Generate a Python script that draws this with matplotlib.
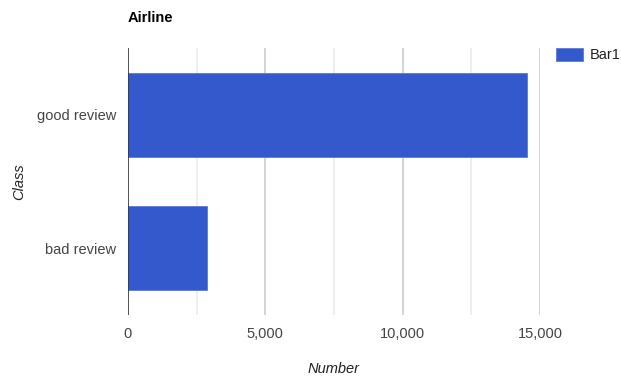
import matplotlib
matplotlib.use("Agg")
import matplotlib.pyplot as plt
from matplotlib.ticker import FuncFormatter

plt.rcParams['font.family'] = ['Liberation Sans', 'DejaVu Sans']

categories = ["bad review", "good review"]
values = [2865, 14540]
series_name = "Bar1"
title = "Airline"
x_label = "Number"
y_label = "Class"
major_ticks = [0, 5000, 10000, 15000]

W, H = 621, 378
FS = 10.5
fig = plt.figure(figsize=(W / 100, H / 100), dpi=100)
left, right, top, bottom = 128, 540, 48, 315
ax = fig.add_axes([left / W, 1 - bottom / H, (right - left) / W, (bottom - top) / H])

bar_color = "#3359cc"
ypos = list(range(len(categories)))
ax.barh(ypos, values, height=0.627, color=bar_color, edgecolor="#5a7ad6",
        linewidth=0.6, zorder=3, label=series_name)

ax.set_xlim(0, 15000)
ax.set_ylim(-0.5, len(categories) - 0.5)

# gridlines: light minor every 2,500, slightly darker major every 5,000
for v in range(2500, 15001, 2500):
    major = v % 5000 == 0
    ax.axvline(v, color="#cccccc" if major else "#ebebeb", linewidth=1.2, zorder=1)
ax.axvline(0, color="#333333", linewidth=1.2, zorder=4)

for s in ax.spines.values():
    s.set_visible(False)

ax.set_xticks(major_ticks)
ax.xaxis.set_major_formatter(FuncFormatter(lambda v, p: f"{int(v):,}"))
ax.set_yticks(ypos)
ax.set_yticklabels(categories)
ax.tick_params(axis="both", length=0, labelsize=FS, labelcolor="#444444")
ax.tick_params(axis="x", pad=9)
ax.tick_params(axis="y", pad=8.5)

ax.set_xlabel(x_label, fontstyle="italic", fontsize=FS, color="#222222", labelpad=15)
ax.set_ylabel(y_label, fontstyle="italic", fontsize=FS, color="#222222", labelpad=8)

fig.text(left / W, 1 - 18 / H, title, fontsize=FS, fontweight="bold",
         color="#000000", ha="left", va="center")

leg = fig.legend(loc="upper left", bbox_to_anchor=(556 / W, 1 - 48 / H),
                 frameon=False, fontsize=FS, handlelength=1.85, handleheight=0.96,
                 handletextpad=0.45, borderpad=0, borderaxespad=0)
for t in leg.get_texts():
    t.set_color("#222222")

fig.savefig("out.png", dpi=100, facecolor="white")
